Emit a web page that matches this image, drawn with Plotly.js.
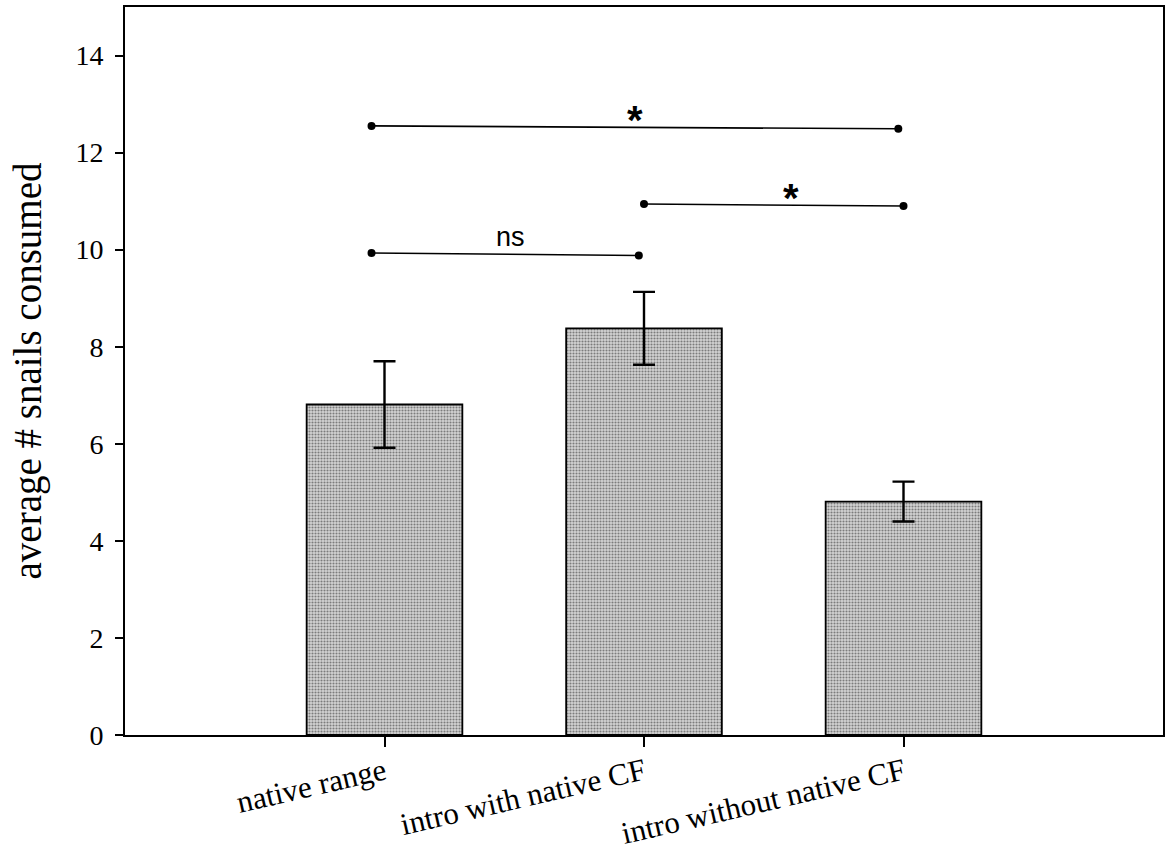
<!DOCTYPE html>
<html>
<head>
<meta charset="utf-8">
<script src="https://cdn.plot.ly/plotly-3.0.1.min.js"></script>
<style>html,body{margin:0;padding:0;background:#fff;}#chart{width:1171px;height:855px;}</style>
</head>
<body>
<div id="chart"></div>
<script>
// Data
const categories = ["native range", "intro with native CF", "intro without native CF"];
const meanValues = [6.81, 8.38, 4.81];
const errorValues = [0.89, 0.75, 0.41];
const yTickValues = [0, 2, 4, 6, 8, 10, 12, 14];

// significance brackets: [x start, x end], [y start, y end]
const sigLabels = ["*", "*", "ns"];
const sigXStart = [-0.05, 1.0, -0.05];
const sigXEnd = [1.98, 2.0, 0.98];
const sigYStart = [12.55, 10.94, 9.93];
const sigYEnd = [12.49, 10.90, 9.88];
const sigLabelX = [0.965, 1.565, 0.484];

const catIndex = categories.map((c, i) => i);

const traces = [{
  type: 'bar',
  x: catIndex,
  y: meanValues,
  width: 0.6,
  marker: {
    color: '#c8c8c8',
    line: {color: '#000', width: 1.8},
    pattern: {shape: '.', size: 3, solidity: 0.4, fgcolor: '#7c7c7c', bgcolor: '#d4d4d4'}
  },
  error_y: {type: 'data', array: errorValues, visible: true, color: '#000', thickness: 2.4, width: 11},
  hoverinfo: 'skip',
  showlegend: false
}];

const annotations = [];
for (let i = 0; i < sigLabels.length; i++) {
  traces.push({
    type: 'scatter',
    mode: 'lines+markers',
    x: [sigXStart[i], sigXEnd[i]],
    y: [sigYStart[i], sigYEnd[i]],
    line: {color: '#000', width: 1.6},
    marker: {color: '#000', size: 8},
    showlegend: false,
    hoverinfo: 'skip'
  });
  const isStar = sigLabels[i] === '*';
  annotations.push({
    x: sigLabelX[i],
    y: (sigYStart[i] + sigYEnd[i]) / 2,
    xref: 'x', yref: 'y',
    text: isStar ? '<b>*</b>' : sigLabels[i],
    showarrow: false,
    yanchor: 'bottom',
    yshift: isStar ? -17 : 0,
    font: {family: 'Liberation Sans, Arial, sans-serif', size: isStar ? 40 : 27, color: '#000'}
  });
}

const layout = {
  width: 1171,
  height: 855,
  margin: {l: 125, r: 8, t: 7, b: 120},
  paper_bgcolor: '#fff',
  plot_bgcolor: '#fff',
  font: {family: 'Liberation Serif, Times New Roman, serif', color: '#000'},
  xaxis: {
    range: [-1, 3],
    tickmode: 'array',
    tickvals: catIndex,
    ticktext: categories,
    tickangle: -13,
    ticks: 'outside',
    ticklen: 10,
    tickwidth: 2,
    tickcolor: '#000',
    ticklabelstandoff: -5,
    tickfont: {family: 'Liberation Serif, Times New Roman, serif', size: 31, color: '#000'},
    showline: true,
    linecolor: '#000',
    linewidth: 2,
    mirror: true,
    showgrid: false,
    zeroline: false,
    automargin: false
  },
  yaxis: {
    range: [0, 15],
    tickmode: 'array',
    tickvals: yTickValues,
    ticktext: yTickValues.map(String),
    ticks: 'outside',
    ticklen: 8,
    tickwidth: 2,
    tickcolor: '#000',
    ticklabelstandoff: 6,
    tickfont: {family: 'Liberation Serif, Times New Roman, serif', size: 28, color: '#000'},
    showline: true,
    linecolor: '#000',
    linewidth: 2,
    mirror: true,
    showgrid: false,
    zeroline: false,
    automargin: false,
    title: {text: 'average # snails consumed', font: {family: 'Liberation Serif, Times New Roman, serif', size: 39, color: '#000'}, standoff: 22}
  },
  annotations: annotations,
  bargap: 0.4
};

Plotly.newPlot('chart', traces, layout, {displayModeBar: false, staticPlot: true});
</script>
</body>
</html>
